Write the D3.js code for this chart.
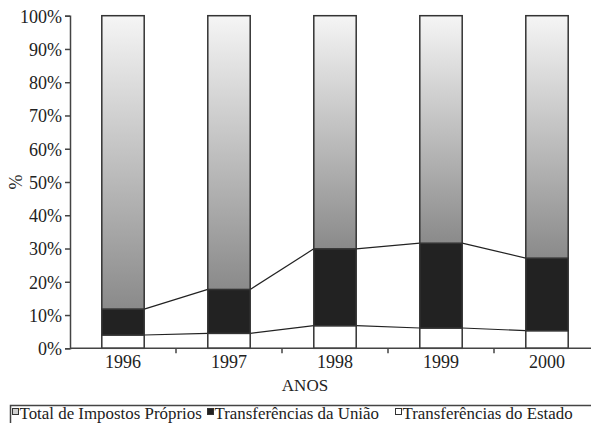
<!DOCTYPE html>
<html><head><meta charset="utf-8">
<script src="https://cdn.jsdelivr.net/npm/d3@7"></script>
<style>body{margin:0;background:#fff}svg{display:block}svg text{font-family:"Liberation Serif","Times New Roman",serif !important;fill:#222}</style>
</head><body>
<script>
const years = ["1996","1997","1998","1999","2000"];
const estado = [4.0, 4.5, 6.8, 6.1, 5.3];
const uniao = [7.8, 13.2, 23.1, 25.5, 21.8];
const proprios = [88.2, 82.3, 70.1, 68.4, 72.9];
const yTicks = [0,10,20,30,40,50,60,70,80,90,100];
const seriesNames = ["Total de Impostos Próprios","Transferências da União","Transferências do Estado"];

const W=591,H=423;
const svg=d3.select("body").append("svg").attr("width",W).attr("height",H).attr("font-family","Liberation Serif");
const defs=svg.append("defs");
const g=defs.append("linearGradient").attr("id","gr").attr("x1",0).attr("y1",0).attr("x2",0).attr("y2",1);
g.append("stop").attr("offset","0%").attr("stop-color","#f5f5f5");
g.append("stop").attr("offset","100%").attr("stop-color","#8a8a8a");

const x=d3.scaleBand().domain(years).range([70,600]).paddingInner(0.6).paddingOuter(0.3);
const y=d3.scaleLinear().domain([0,100]).range([348.3,15.7]);

const rows=years.map((yr,i)=>({yr,e:estado[i],u:uniao[i],p:proprios[i]}));
const stack=d3.stack().keys(["e","u","p"])(rows);
const fills={e:"#ffffff",u:"#222222",p:"url(#gr)"};

[stack[0],stack[1]].forEach(s=>{
  for(let i=0;i<s.length-1;i++){
    svg.append("line").attr("x1",x(years[i])+x.bandwidth()).attr("y1",y(s[i][1]))
      .attr("x2",x(years[i+1])).attr("y2",y(s[i+1][1]))
      .attr("stroke","#222").attr("stroke-width",1.2);
  }
});

stack.forEach(s=>{
  svg.append("g").selectAll("rect").data(s).join("rect")
    .attr("x",d=>x(d.data.yr)).attr("width",x.bandwidth())
    .attr("y",d=>y(d[1])).attr("height",d=>y(d[0])-y(d[1]))
    .attr("fill",fills[s.key]).attr("stroke","#333").attr("stroke-width",1.5);
});

const ya=svg.append("g").attr("transform","translate(70,0)")
  .call(d3.axisLeft(y).tickValues(yTicks).tickFormat(d=>d+"%").tickSize(5).tickPadding(3));
ya.attr("font-family","Liberation Serif");
ya.select(".domain").attr("stroke","#444").attr("stroke-width",1.5);
ya.selectAll(".tick line").attr("stroke","#444").attr("stroke-width",1.5);
ya.selectAll("text").attr("font-size",18).attr("fill","#222").attr("dy","0.35em");

const xa=svg.append("g").attr("transform","translate(0,348.3)");
xa.append("line").attr("x1",70).attr("x2",600).attr("stroke","#444").attr("stroke-width",1.5);
const step=x.step();
years.slice(1).forEach(yr=>{
  const bx=x(yr)-(step-x.bandwidth())/2;
  xa.append("line").attr("x1",bx).attr("x2",bx).attr("y1",0).attr("y2",5).attr("stroke","#444").attr("stroke-width",1.5);
});
xa.selectAll("text.lbl").data(years).join("text").attr("class","lbl")
  .attr("x",d=>x(d)+x.bandwidth()/2).attr("y",20).attr("text-anchor","middle")
  .attr("font-size",18).text(d=>d);

svg.append("text").attr("x",305).attr("y",391).attr("text-anchor","middle").attr("font-size",17).text("ANOS");
svg.append("text").attr("transform","translate(22,182) rotate(-90)").attr("text-anchor","middle").attr("font-size",18).text("%");

svg.append("rect").attr("x",10.5).attr("y",405.5).attr("width",600).attr("height",30)
  .attr("fill","#fff").attr("stroke","#444").attr("stroke-width",1.5);
const leg=[{n:seriesNames[0],f:"#cfcfcf",x:12},{n:seriesNames[1],f:"#222",x:207},{n:seriesNames[2],f:"#fff",x:395}];
leg.forEach(l=>{
  svg.append("rect").attr("x",l.x+0.5).attr("y",408.5).attr("width",6).attr("height",6).attr("fill",l.f).attr("stroke","#333").attr("stroke-width",1);
  svg.append("text").attr("x",l.x+7.5).attr("y",419).attr("font-size",16.9).text(l.n);
});
</script>
</body></html>
